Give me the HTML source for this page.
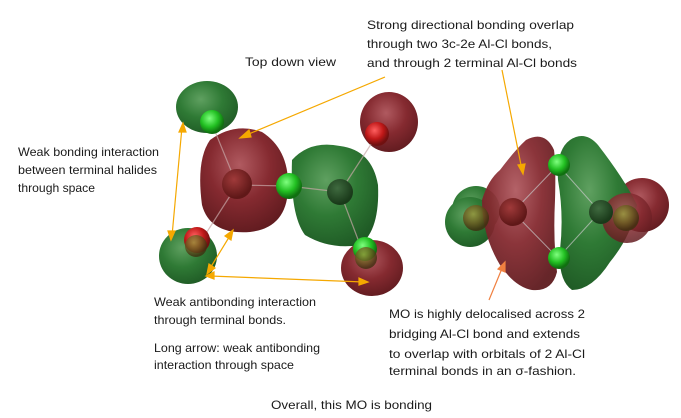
<!DOCTYPE html>
<html><head><meta charset="utf-8"><style>
html,body{margin:0;padding:0;background:#fff;}
svg{display:block;}
text{font-family:"Liberation Sans",sans-serif;font-size:12px;fill:#1a1a1a;}
</style></head><body>
<svg width="681" height="418" viewBox="0 0 681 418" xmlns="http://www.w3.org/2000/svg">
<defs>
<radialGradient id="gL" cx="0.4" cy="0.35" r="0.7"><stop offset="0" stop-color="#5fa060"/><stop offset="0.5" stop-color="#2f7a35"/><stop offset="1" stop-color="#1f5a25"/></radialGradient>
<radialGradient id="rL" cx="0.45" cy="0.35" r="0.7"><stop offset="0" stop-color="#b05a60"/><stop offset="0.5" stop-color="#852a30"/><stop offset="1" stop-color="#5e1a1e"/></radialGradient>
<radialGradient id="gS" cx="0.4" cy="0.35" r="0.6"><stop offset="0" stop-color="#7fff7f"/><stop offset="0.6" stop-color="#22c022"/><stop offset="1" stop-color="#107010"/></radialGradient>
<radialGradient id="rS" cx="0.4" cy="0.35" r="0.6"><stop offset="0" stop-color="#ff6060"/><stop offset="0.6" stop-color="#c01818"/><stop offset="1" stop-color="#701010"/></radialGradient>
<radialGradient id="oS" cx="0.4" cy="0.35" r="0.6"><stop offset="0" stop-color="#9a9a40"/><stop offset="0.6" stop-color="#6a5a20"/><stop offset="1" stop-color="#403010"/></radialGradient>
<radialGradient id="dS" cx="0.4" cy="0.35" r="0.6"><stop offset="0" stop-color="#3f6a3f"/><stop offset="1" stop-color="#1a3a1a"/></radialGradient>
<radialGradient id="mS" cx="0.4" cy="0.35" r="0.6"><stop offset="0" stop-color="#a03a3a"/><stop offset="1" stop-color="#601818"/></radialGradient>
</defs>

<!-- LEFT MOLECULE -->
<ellipse cx="207" cy="107" rx="31" ry="26" fill="url(#gL)"/>
<ellipse cx="389" cy="122" rx="29" ry="30" fill="url(#rL)"/>
<ellipse cx="188" cy="256" rx="29" ry="28" fill="url(#gL)"/>
<ellipse cx="372" cy="268" rx="31" ry="28" fill="url(#rL)"/>
<path d="M292 160 Q310 140 340 146 Q372 150 378 185 Q380 230 360 245 Q330 250 305 235 Q290 215 292 160Z" fill="url(#gL)"/>
<path d="M210 140 Q235 122 262 132 Q290 150 288 190 Q286 228 250 232 Q210 235 202 205 Q196 160 210 140Z" fill="url(#rL)"/>
<g stroke="#c8a8a8" stroke-width="1.2" opacity="0.7">
<line x1="237" y1="185" x2="288" y2="186"/><line x1="237" y1="185" x2="212" y2="124"/><line x1="237" y1="185" x2="205" y2="235"/>
<line x1="340" y1="192" x2="377" y2="135"/><line x1="340" y1="192" x2="362" y2="250"/><line x1="288" y1="186" x2="340" y2="192"/>
</g>
<circle cx="212" cy="122" r="12" fill="url(#gS)"/>
<circle cx="237" cy="184" r="15" fill="url(#mS)"/>
<circle cx="289" cy="186" r="13" fill="url(#gS)"/>
<circle cx="340" cy="192" r="13" fill="url(#dS)"/>
<circle cx="377" cy="134" r="12" fill="url(#rS)"/>
<circle cx="197" cy="240" r="13" fill="url(#rS)"/>
<circle cx="196" cy="246" r="11" fill="url(#oS)" opacity="0.8"/>
<circle cx="365" cy="249" r="12" fill="url(#gS)"/>
<circle cx="366" cy="258" r="11" fill="url(#oS)" opacity="0.8"/>

<!-- RIGHT MOLECULE -->
<circle cx="476" cy="210" r="24" fill="url(#gL)"/>
<circle cx="470" cy="222" r="25" fill="url(#gL)"/>
<circle cx="642" cy="205" r="27" fill="url(#rL)"/>
<path d="M526 140 Q545 130 554 150 Q556 165 555 200 Q553 240 557 272 Q552 292 532 290 Q515 287 500 265 Q482 235 482 200 Q488 180 500 170 Q515 150 526 140Z" fill="url(#rL)" opacity="0.95"/>
<path d="M570 140 Q585 130 598 145 Q625 180 637 205 Q632 235 610 262 Q592 290 572 290 Q558 280 560 250 Q564 215 558 180 Q556 150 570 140Z" fill="url(#gL)"/>
<circle cx="627" cy="218" r="25" fill="url(#rL)" opacity="0.85"/>
<g stroke="#c8c8c8" stroke-width="1" opacity="0.7">
<line x1="513" y1="212" x2="558" y2="165"/><line x1="513" y1="212" x2="558" y2="258"/>
<line x1="600" y1="212" x2="558" y2="165"/><line x1="600" y1="212" x2="558" y2="258"/>
</g>
<circle cx="559" cy="165" r="11" fill="url(#gS)"/>
<circle cx="559" cy="258" r="11" fill="url(#gS)"/>
<circle cx="513" cy="212" r="14" fill="url(#mS)"/>
<circle cx="601" cy="212" r="12" fill="url(#dS)"/>
<circle cx="476" cy="218" r="13" fill="url(#oS)" opacity="0.85"/>
<circle cx="626" cy="218" r="13" fill="url(#oS)" opacity="0.85"/>

<!-- ARROWS -->
<g stroke="#f5a800" stroke-width="1.2" fill="#f5a800">
<line x1="385" y1="77" x2="244" y2="136"/><polygon points="240,138 249,130 251,137"/>
<line x1="182" y1="127" x2="172" y2="236"/><polygon points="183,123 179,132 186,132"/><polygon points="171,240 168,231 175,231"/>
<line x1="231" y1="234" x2="209" y2="270"/><polygon points="233,230 231,240 225,236"/><polygon points="207,274 209,264 215,268"/>
<line x1="210" y1="276" x2="364" y2="282"/><polygon points="206,276 214,272 214,279"/><polygon points="368,282 359,285 359,278"/>
<line x1="502" y1="70" x2="522" y2="170"/><polygon points="523,174 518,165 525,164"/>
</g>
<g stroke="#f08040" stroke-width="1.2" fill="#f08040">
<line x1="489" y1="300" x2="503" y2="266"/><polygon points="505,262 505,272 498,269"/>
</g>

<!-- TEXT -->
<text x="367" y="29" textLength="207" lengthAdjust="spacingAndGlyphs">Strong directional bonding overlap</text>
<text x="367" y="48" textLength="185" lengthAdjust="spacingAndGlyphs">through two 3c-2e Al-Cl bonds,</text>
<text x="367" y="67" textLength="210" lengthAdjust="spacingAndGlyphs">and through 2 terminal Al-Cl bonds</text>
<text x="245" y="66" textLength="91" lengthAdjust="spacingAndGlyphs">Top down view</text>
<text x="18" y="156" textLength="141" lengthAdjust="spacingAndGlyphs">Weak bonding interaction</text>
<text x="18" y="174" textLength="139" lengthAdjust="spacingAndGlyphs">between terminal halides</text>
<text x="18" y="192" textLength="77" lengthAdjust="spacingAndGlyphs">through space</text>
<text x="154" y="306" textLength="162" lengthAdjust="spacingAndGlyphs">Weak antibonding interaction</text>
<text x="154" y="324" textLength="132" lengthAdjust="spacingAndGlyphs">through terminal bonds.</text>
<text x="154" y="352" textLength="166" lengthAdjust="spacingAndGlyphs">Long arrow: weak antibonding</text>
<text x="154" y="369" textLength="140" lengthAdjust="spacingAndGlyphs">interaction through space</text>
<text x="389" y="318" textLength="196" lengthAdjust="spacingAndGlyphs">MO is highly delocalised across 2</text>
<text x="389" y="338" textLength="191" lengthAdjust="spacingAndGlyphs">bridging Al-Cl bond and extends</text>
<text x="389" y="358" textLength="196" lengthAdjust="spacingAndGlyphs">to overlap with orbitals of 2 Al-Cl</text>
<text x="389" y="375" textLength="187" lengthAdjust="spacingAndGlyphs">terminal bonds in an σ-fashion.</text>
<text x="271" y="409" textLength="161" lengthAdjust="spacingAndGlyphs">Overall, this MO is bonding</text>
</svg>
</body></html>
